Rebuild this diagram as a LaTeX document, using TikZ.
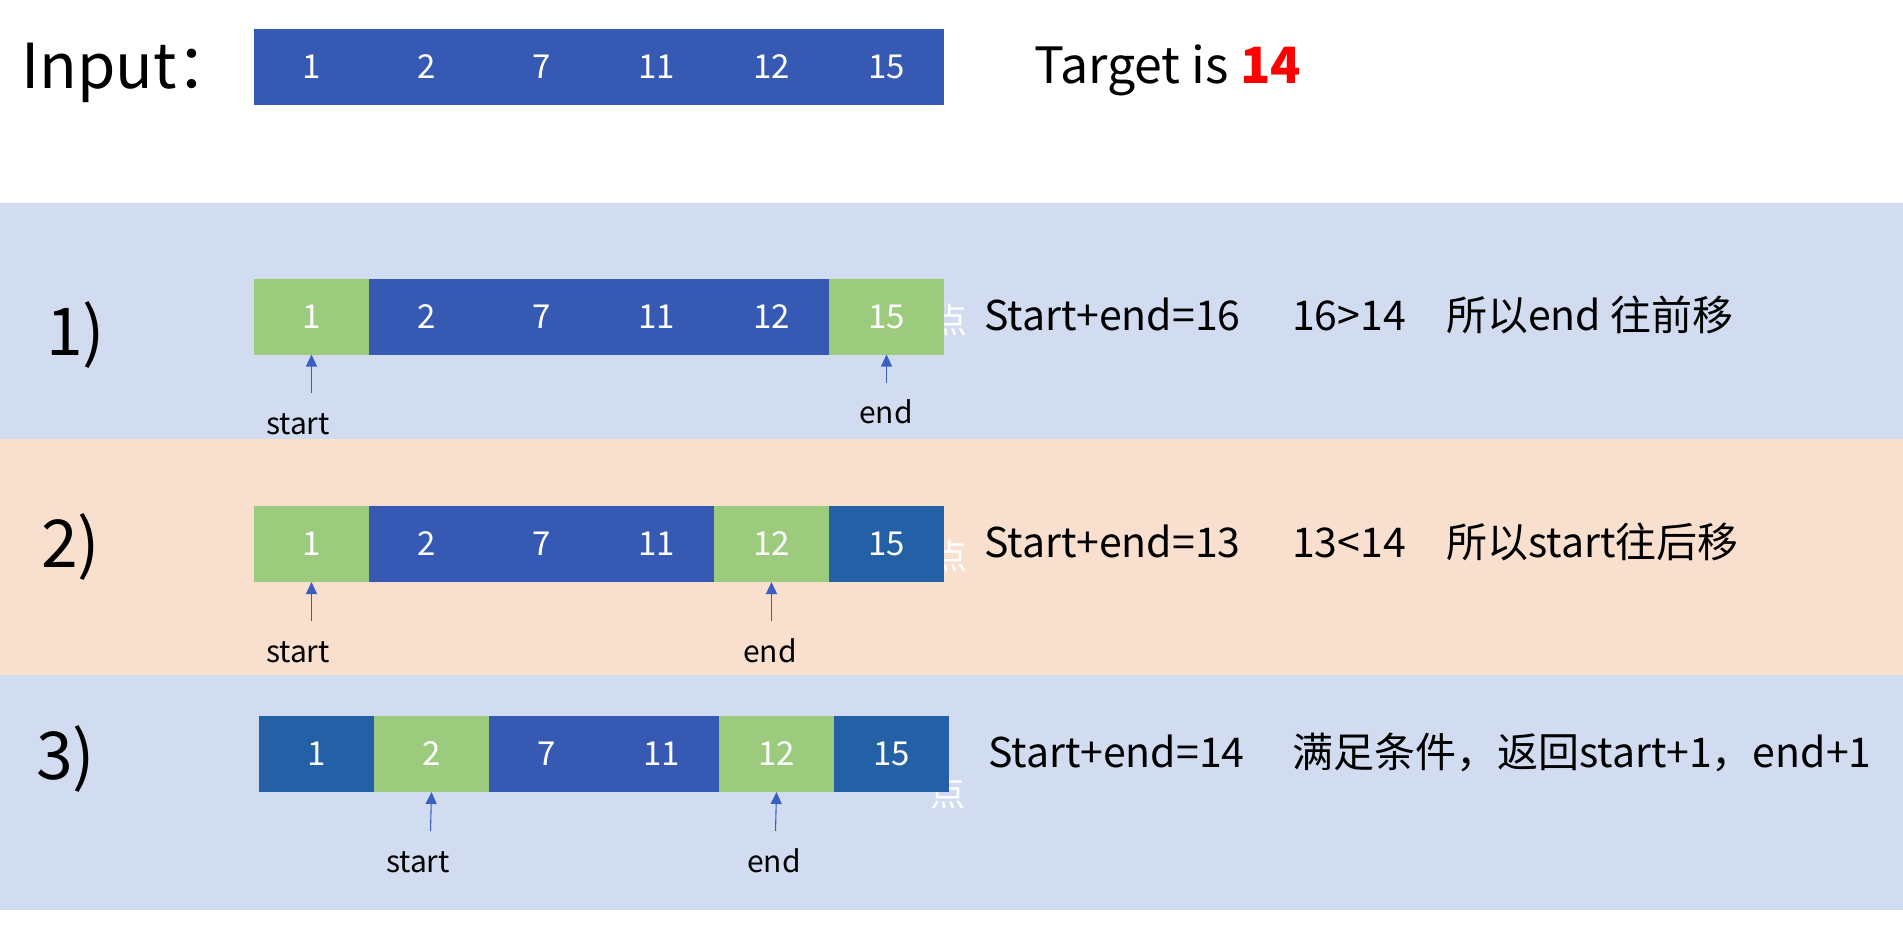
\documentclass[tikz,border=0pt]{standalone}
\usepackage{fontspec}
\setmainfont{Noto Sans CJK SC}
\usetikzlibrary{arrows.meta}
\definecolor{cellblue}{HTML}{3659B4}
\definecolor{celldark}{HTML}{2460A6}
\definecolor{cellgreen}{HTML}{9CCB7D}
\definecolor{bandblue}{HTML}{D1DCF0}
\definecolor{bandpeach}{HTML}{F9DFCE}
\definecolor{arrowblue}{HTML}{3A5FC0}
\definecolor{targetred}{HTML}{FF0000}
\begin{document}
\begin{tikzpicture}[x=1pt,y=-1pt,
  cell/.style={minimum width=115pt, minimum height=76pt, inner sep=0pt, outer sep=0pt,
    text=white, font=\fontsize{33}{33}\selectfont},
  ptr/.style={-{Triangle[width=11pt,length=12pt]}, line width=1.1pt, draw=arrowblue},
  ptrlabel/.style={inner sep=0pt, anchor=base, font=\fontsize{30}{30}\selectfont},
  desc/.style={inner sep=0pt, anchor=base west, font=\fontsize{41}{41}\selectfont},
  rowlabel/.style={inner sep=0pt, anchor=base west, font=\fontsize{66}{66}\selectfont},
  ghost/.style={inner sep=0pt, text=white, font=\fontsize{35}{35}\selectfont}]
\useasboundingbox (0,0) rectangle (1903,936);
\fill[white] (0,0) rectangle (1903,936);
% bands
\fill[bandblue] (0,203) rectangle (1903,439);
\fill[bandpeach] (0,439) rectangle (1903,675);
\fill[bandblue] (0,675) rectangle (1903,910);

% header
\node[inner sep=0pt, anchor=base west, font=\fontsize{62}{62}\selectfont] (inlabel) at (21,89) {Input：};
\foreach \v [count=\i] in {1,2,7,11,12,15}
  \node[cell, fill=cellblue] (in\i) at ({254+115*(\i-0.5)},67) {\v};
\node[inner sep=0pt, anchor=base west, font=\fontsize{50}{50}\selectfont] (target) at (1034,84)
  {Target is \textbf{\textcolor{targetred}{14}}};

% hidden glyphs behind the arrays
\node[ghost] (g1) at (950,320) {点};
\node[ghost] (g2) at (950,556) {点};
\node[ghost] (g3) at (948,793) {点};

% row 1
\node[rowlabel] (l1) at (46,355) {1)};
\foreach \v/\c [count=\i] in {1/cellgreen,2/cellblue,7/cellblue,11/cellblue,12/cellblue,15/cellgreen}
  \node[cell, fill=\c] (ra\i) at ({254+115*(\i-0.5)},316.5) {\v};
\coordinate (ras) at (311.5,393);
\coordinate (rae) at (886.5,383);
\draw[ptr] (ras) -- (ra1.south);
\draw[ptr] (rae) -- (ra6.south);
\node[ptrlabel] (ral1) at (298,434) {start};
\node[ptrlabel] (ral2) at (886,423) {end};
\node[desc] (da1) at (984,330) {Start+end=16};
\node[desc] (da2) at (1292,330) {16>14};
\node[desc] (da3) at (1446,330) {所以end 往前移};

% row 2
\node[rowlabel] (l2) at (41,567) {2)};
\foreach \v/\c [count=\i] in {1/cellgreen,2/cellblue,7/cellblue,11/cellblue,12/cellgreen,15/celldark}
  \node[cell, fill=\c] (rb\i) at ({254+115*(\i-0.5)},544) {\v};
\coordinate (rbs) at (311.5,621);
\coordinate (rbe) at (771.5,621);
\draw[ptr] (rbs) -- (rb1.south);
\draw[ptr] (rbe) -- (rb5.south);
\node[ptrlabel] (rbl1) at (298,662) {start};
\node[ptrlabel] (rbl2) at (770,662) {end};
\node[desc] (db1) at (984,557) {Start+end=13};
\node[desc] (db2) at (1292,557) {13<14};
\node[desc] (db3) at (1446,557) {所以start往后移};

% row 3
\node[rowlabel] (l3) at (36,779) {3)};
\foreach \v/\c [count=\i] in {1/celldark,2/cellgreen,7/cellblue,11/cellblue,12/cellgreen,15/celldark}
  \node[cell, fill=\c] (rc\i) at ({259+115*(\i-0.5)},754) {\v};
\coordinate (rcs) at (430.5,831);
\coordinate (rce) at (775.5,831);
\draw[ptr] (rcs) -- (rc2.south);
\draw[ptr] (rce) -- (rc5.south);
\node[ptrlabel] (rcl1) at (418,872) {start};
\node[ptrlabel] (rcl2) at (774,872) {end};
\node[desc] (dc1) at (988,767) {Start+end=14};
\node[desc] (dc2) at (1292,767) {满足条件，返回start+1，end+1};
\end{tikzpicture}
\end{document}
